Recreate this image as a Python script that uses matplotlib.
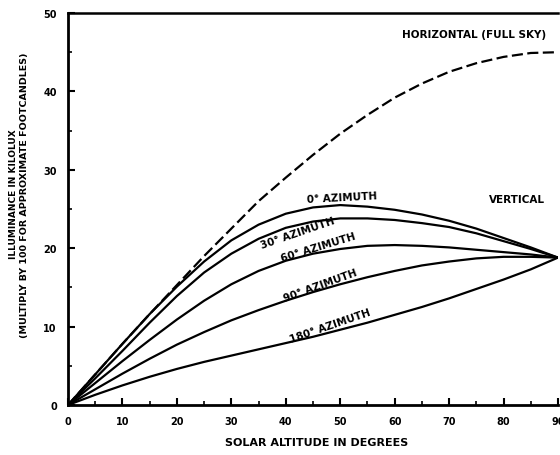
import matplotlib.pyplot as plt
from matplotlib.ticker import MultipleLocator

# solar altitude (degrees)
altitude = [0, 5, 10, 15, 20, 25, 30, 35, 40, 45, 50, 55, 60, 65, 70, 75, 80, 85, 90]

# illuminance in kilolux
horizontal = [0, 3.9, 7.8, 11.6, 15.3, 19.0, 22.5, 26.0, 29.0, 31.9, 34.6, 37.0, 39.2, 41.0, 42.5, 43.6, 44.4, 44.9, 45.0]
az_0 = [0, 3.9, 7.8, 11.6, 15.1, 18.3, 21.0, 23.0, 24.4, 25.2, 25.5, 25.3, 24.9, 24.3, 23.5, 22.5, 21.3, 20.1, 18.8]
az_30 = [0, 3.4, 6.9, 10.5, 13.9, 16.9, 19.3, 21.2, 22.6, 23.4, 23.8, 23.8, 23.6, 23.2, 22.7, 21.9, 20.9, 19.9, 18.8]
az_60 = [0, 2.8, 5.6, 8.3, 10.9, 13.3, 15.4, 17.1, 18.4, 19.3, 19.9, 20.3, 20.4, 20.3, 20.1, 19.8, 19.5, 19.2, 18.8]
az_90 = [0, 2.0, 4.0, 5.9, 7.7, 9.3, 10.8, 12.1, 13.3, 14.4, 15.4, 16.3, 17.1, 17.8, 18.3, 18.7, 18.9, 18.9, 18.8]
az_180 = [0, 1.3, 2.5, 3.6, 4.6, 5.5, 6.3, 7.1, 7.9, 8.7, 9.6, 10.5, 11.5, 12.5, 13.6, 14.8, 16.0, 17.3, 18.8]

fig = plt.figure(figsize=(5.6, 4.56), dpi=100)
ax = fig.add_axes([68 / 560, 50 / 456, 490 / 560, 392 / 456])

ax.plot(altitude, horizontal, color='black', lw=1.6, linestyle=(0, (5, 2)))
for series in [az_0, az_30, az_60, az_90, az_180]:
    ax.plot(altitude, series, color='black', lw=1.6)

ax.set_xlim(0, 90)
ax.set_ylim(0, 50)

ax.spines['right'].set_visible(False)
ax.spines['left'].set_linewidth(2)
ax.spines['bottom'].set_linewidth(2)
ax.spines['top'].set_linewidth(1.8)

ax.xaxis.set_major_locator(MultipleLocator(10))
ax.xaxis.set_minor_locator(MultipleLocator(5))
ax.yaxis.set_major_locator(MultipleLocator(10))
ax.yaxis.set_minor_locator(MultipleLocator(5))
ax.tick_params(which='major', direction='in', length=5, width=1.5, labelsize=7, pad=8)
ax.tick_params(which='minor', direction='in', length=3, width=1.2)
ax.tick_params(top=False, right=False, which='both')
for lbl in ax.get_xticklabels() + ax.get_yticklabels():
    lbl.set_fontweight('bold')

txt = dict(color='black', fontweight='bold', fontsize=7.5, ha='center', va='center')
ax.text(74.5, 47.3, 'HORIZONTAL (FULL SKY)', **txt)
ax.text(82.5, 26.3, 'VERTICAL', **txt)
ax.text(50.4, 26.5, '0° AZIMUTH', rotation=3, **txt)
ax.text(42.2, 22.0, '30° AZIMUTH', rotation=19, **txt)
ax.text(46.0, 20.2, '60° AZIMUTH', rotation=17, **txt)
ax.text(46.4, 15.3, '90° AZIMUTH', rotation=20, **txt)
ax.text(48.2, 10.2, '180° AZIMUTH', rotation=19, **txt)

fig.text(317 / 560, 1 - 443 / 456, 'SOLAR ALTITUDE IN DEGREES', fontsize=8,
         fontweight='bold', ha='center', va='center')
fig.text(14 / 560, 1 - 194 / 456, 'ILLUMINANCE IN KILOLUX', fontsize=6.5,
         fontweight='bold', ha='center', va='center', rotation=90)
fig.text(25 / 560, 1 - 195 / 456, '(MULTIPLY BY 100 FOR APPROXIMATE FOOTCANDLES)', fontsize=6.8,
         fontweight='bold', ha='center', va='center', rotation=90)

plt.savefig('out.png', dpi=100)
